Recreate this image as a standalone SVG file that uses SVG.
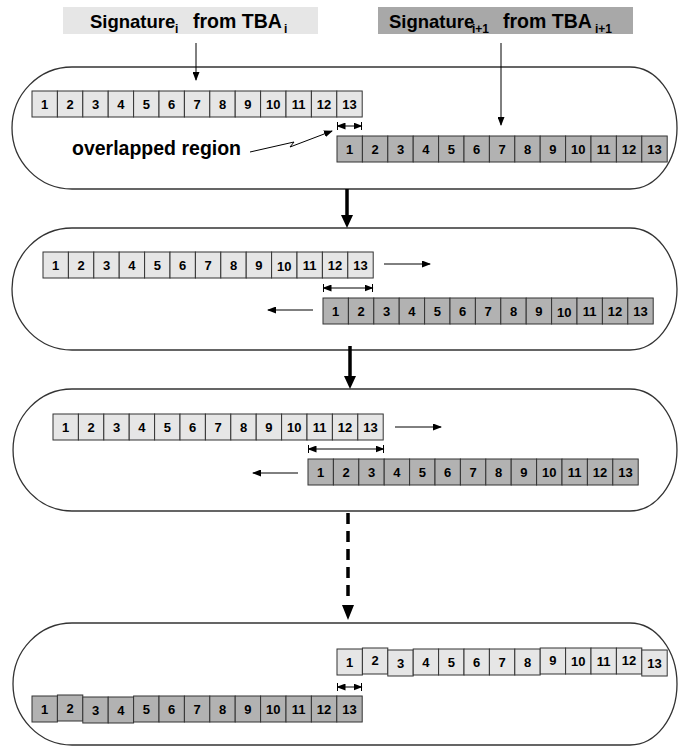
<svg xmlns="http://www.w3.org/2000/svg" width="678" height="746" viewBox="0 0 678 746">
<style>
.bg{fill:#fff}
.panel{fill:#fff;stroke:#333;stroke-width:1.3}
.cells rect{stroke:#333;stroke-width:1}
.light rect{fill:#e6e6e6}
.dark rect{fill:#b2b2b2}
.n{font-family:"Liberation Sans",Arial,sans-serif;font-weight:bold;font-size:13px;text-anchor:middle;fill:#000}
.t{font-family:"Liberation Sans",Arial,sans-serif;font-weight:bold;font-size:18.5px;fill:#000}
.w{font-size:19.5px}
.s{font-size:12px}
.thin{fill:none;stroke:#000;stroke-width:1}
.thick{fill:none;stroke:#000;stroke-width:3.5}
.dash{stroke-dasharray:11 7}
.head{fill:#000}
</style>
<defs>
<marker id="ah" markerUnits="userSpaceOnUse" markerWidth="9" markerHeight="7" refX="8" refY="3.5" orient="auto-start-reverse"><path d="M0,0 L9,3.5 L0,7 z" fill="#000"/></marker>
</defs>
<rect class="bg" x="0" y="0" width="678" height="746"/>

<g id="title-i">
<rect x="63" y="7" width="255" height="27" fill="#e6e6e6"/>
<text class="t" y="28"><tspan x="90">Signature</tspan><tspan class="s" x="175" y="33">i</tspan><tspan class="w" x="193" y="28">from TBA</tspan><tspan class="s" x="284" y="33">i</tspan></text>
</g>
<g id="title-i1">
<rect x="378" y="7" width="255" height="27" fill="#a8a8a8"/>
<text class="t" y="28"><tspan x="389">Signature</tspan><tspan class="s" x="472" y="33">i+1</tspan><tspan class="w" x="503" y="28">from TBA</tspan><tspan class="s" x="595" y="33">i+1</tspan></text>
</g>

<g id="panel1"><path class="panel" d="M72,67 L630,67 A47,61 0 0 1 630,189 L72,189 A60,61 0 0 1 72,67 Z"/></g>
<g id="panel2"><path class="panel" d="M72,228 L630,228 A47,61 0 0 1 630,350 L72,350 A60,61 0 0 1 72,228 Z"/></g>
<g id="panel3"><path class="panel" d="M72,389 L630,389 A47,61 0 0 1 630,511 L72,511 A59,61 0 0 1 72,389 Z"/></g>
<g id="panel4"><path class="panel" d="M72,623 L630,623 A47,61 0 0 1 630,745 L72,745 A59,61 0 0 1 72,623 Z"/></g>

<g id="p1-sig-i" class="cells light" transform="translate(32,91)">
<rect x="0" y="0" width="25.4" height="26"/><rect x="25.4" y="0" width="25.4" height="26"/><rect x="50.8" y="0" width="25.4" height="26"/><rect x="76.2" y="0" width="25.4" height="26"/><rect x="101.6" y="0" width="25.4" height="26"/><rect x="127" y="0" width="25.4" height="26"/><rect x="152.4" y="0" width="25.4" height="26"/><rect x="177.8" y="0" width="25.4" height="26"/><rect x="203.2" y="0" width="25.4" height="26"/><rect x="228.6" y="0" width="25.4" height="26"/><rect x="254" y="0" width="25.4" height="26"/><rect x="279.4" y="0" width="25.4" height="26"/><rect x="304.8" y="0" width="25.4" height="26"/>
<text class="n" x="12.7" y="17.5">1</text><text class="n" x="38.1" y="17.5">2</text><text class="n" x="63.5" y="17.5">3</text><text class="n" x="88.9" y="17.5">4</text><text class="n" x="114.3" y="17.5">5</text><text class="n" x="139.7" y="17.5">6</text><text class="n" x="165.1" y="17.5">7</text><text class="n" x="190.5" y="17.5">8</text><text class="n" x="215.9" y="17.5">9</text><text class="n" x="241.3" y="17.5">10</text><text class="n" x="266.7" y="17.5">11</text><text class="n" x="292.1" y="17.5">12</text><text class="n" x="317.5" y="17.5">13</text>
</g>
<g id="p1-sig-i1" class="cells dark" transform="translate(337,136)">
<rect x="0" y="0" width="25.4" height="26"/><rect x="25.4" y="0" width="25.4" height="26"/><rect x="50.8" y="0" width="25.4" height="26"/><rect x="76.2" y="0" width="25.4" height="26"/><rect x="101.6" y="0" width="25.4" height="26"/><rect x="127" y="0" width="25.4" height="26"/><rect x="152.4" y="0" width="25.4" height="26"/><rect x="177.8" y="0" width="25.4" height="26"/><rect x="203.2" y="0" width="25.4" height="26"/><rect x="228.6" y="0" width="25.4" height="26"/><rect x="254" y="0" width="25.4" height="26"/><rect x="279.4" y="0" width="25.4" height="26"/><rect x="304.8" y="0" width="25.4" height="26"/>
<text class="n" x="12.7" y="17.5">1</text><text class="n" x="38.1" y="17.5">2</text><text class="n" x="63.5" y="17.5">3</text><text class="n" x="88.9" y="17.5">4</text><text class="n" x="114.3" y="17.5">5</text><text class="n" x="139.7" y="17.5">6</text><text class="n" x="165.1" y="17.5">7</text><text class="n" x="190.5" y="17.5">8</text><text class="n" x="215.9" y="17.5">9</text><text class="n" x="241.3" y="17.5">10</text><text class="n" x="266.7" y="17.5">11</text><text class="n" x="292.1" y="17.5">12</text><text class="n" x="317.5" y="17.5">13</text>
</g>
<g id="label-overlap">
<text class="t" x="72" y="155" style="font-size:19.5px">overlapped region</text>
</g>

<g id="p2-sig-i" class="cells light" transform="translate(43,252)">
<rect x="0" y="0" width="25.4" height="26"/><rect x="25.4" y="0" width="25.4" height="26"/><rect x="50.8" y="0" width="25.4" height="26"/><rect x="76.2" y="0" width="25.4" height="26"/><rect x="101.6" y="0" width="25.4" height="26"/><rect x="127" y="0" width="25.4" height="26"/><rect x="152.4" y="0" width="25.4" height="26"/><rect x="177.8" y="0" width="25.4" height="26"/><rect x="203.2" y="0" width="25.4" height="26"/><rect x="228.6" y="0" width="25.4" height="26"/><rect x="254" y="0" width="25.4" height="26"/><rect x="279.4" y="0" width="25.4" height="26"/><rect x="304.8" y="0" width="25.4" height="26"/>
<text class="n" x="12.7" y="17.5">1</text><text class="n" x="38.1" y="17.5">2</text><text class="n" x="63.5" y="17.5">3</text><text class="n" x="88.9" y="17.5">4</text><text class="n" x="114.3" y="17.5">5</text><text class="n" x="139.7" y="17.5">6</text><text class="n" x="165.1" y="17.5">7</text><text class="n" x="190.5" y="17.5">8</text><text class="n" x="215.9" y="17.5">9</text><text class="n" x="241.3" y="19">10</text><text class="n" x="266.7" y="17.5">11</text><text class="n" x="292.1" y="17.5">12</text><text class="n" x="317.5" y="17.5">13</text>
</g>
<g id="p2-sig-i1" class="cells dark" transform="translate(323,298)">
<rect x="0" y="0" width="25.4" height="26"/><rect x="25.4" y="0" width="25.4" height="26"/><rect x="50.8" y="0" width="25.4" height="26"/><rect x="76.2" y="0" width="25.4" height="26"/><rect x="101.6" y="0" width="25.4" height="26"/><rect x="127" y="0" width="25.4" height="26"/><rect x="152.4" y="0" width="25.4" height="26"/><rect x="177.8" y="0" width="25.4" height="26"/><rect x="203.2" y="0" width="25.4" height="26"/><rect x="228.6" y="0" width="25.4" height="26"/><rect x="254" y="0" width="25.4" height="26"/><rect x="279.4" y="0" width="25.4" height="26"/><rect x="304.8" y="0" width="25.4" height="26"/>
<text class="n" x="12.7" y="17.5">1</text><text class="n" x="38.1" y="17.5">2</text><text class="n" x="63.5" y="17.5">3</text><text class="n" x="88.9" y="17.5">4</text><text class="n" x="114.3" y="17.5">5</text><text class="n" x="139.7" y="17.5">6</text><text class="n" x="165.1" y="17.5">7</text><text class="n" x="190.5" y="17.5">8</text><text class="n" x="215.9" y="17.5">9</text><text class="n" x="241.3" y="19">10</text><text class="n" x="266.7" y="17.5">11</text><text class="n" x="292.1" y="17.5">12</text><text class="n" x="317.5" y="17.5">13</text>
</g>

<g id="p3-sig-i" class="cells light" transform="translate(53,414)">
<rect x="0" y="0" width="25.4" height="26"/><rect x="25.4" y="0" width="25.4" height="26"/><rect x="50.8" y="0" width="25.4" height="26"/><rect x="76.2" y="0" width="25.4" height="26"/><rect x="101.6" y="0" width="25.4" height="26"/><rect x="127" y="0" width="25.4" height="26"/><rect x="152.4" y="0" width="25.4" height="26"/><rect x="177.8" y="0" width="25.4" height="26"/><rect x="203.2" y="0" width="25.4" height="26"/><rect x="228.6" y="0" width="25.4" height="26"/><rect x="254" y="0" width="25.4" height="26"/><rect x="279.4" y="0" width="25.4" height="26"/><rect x="304.8" y="0" width="25.4" height="26"/>
<text class="n" x="12.7" y="17.5">1</text><text class="n" x="38.1" y="17.5">2</text><text class="n" x="63.5" y="17.5">3</text><text class="n" x="88.9" y="17.5">4</text><text class="n" x="114.3" y="17.5">5</text><text class="n" x="139.7" y="17.5">6</text><text class="n" x="165.1" y="17.5">7</text><text class="n" x="190.5" y="17.5">8</text><text class="n" x="215.9" y="17.5">9</text><text class="n" x="241.3" y="17.5">10</text><text class="n" x="266.7" y="17.5">11</text><text class="n" x="292.1" y="17.5">12</text><text class="n" x="317.5" y="17.5">13</text>
</g>
<g id="p3-sig-i1" class="cells dark" transform="translate(308,459)">
<rect x="0" y="0" width="25.4" height="26"/><rect x="25.4" y="0" width="25.4" height="26"/><rect x="50.8" y="0" width="25.4" height="26"/><rect x="76.2" y="0" width="25.4" height="26"/><rect x="101.6" y="0" width="25.4" height="26"/><rect x="127" y="0" width="25.4" height="26"/><rect x="152.4" y="0" width="25.4" height="26"/><rect x="177.8" y="0" width="25.4" height="26"/><rect x="203.2" y="0" width="25.4" height="26"/><rect x="228.6" y="0" width="25.4" height="26"/><rect x="254" y="0" width="25.4" height="26"/><rect x="279.4" y="0" width="25.4" height="26"/><rect x="304.8" y="0" width="25.4" height="26"/>
<text class="n" x="12.7" y="17.5">1</text><text class="n" x="38.1" y="17.5">2</text><text class="n" x="63.5" y="17.5">3</text><text class="n" x="88.9" y="17.5">4</text><text class="n" x="114.3" y="17.5">5</text><text class="n" x="139.7" y="17.5">6</text><text class="n" x="165.1" y="17.5">7</text><text class="n" x="190.5" y="17.5">8</text><text class="n" x="215.9" y="17.5">9</text><text class="n" x="241.3" y="17.5">10</text><text class="n" x="266.7" y="17.5">11</text><text class="n" x="292.1" y="17.5">12</text><text class="n" x="317.5" y="17.5">13</text>
</g>

<g id="p4-sig-top" class="cells light" transform="translate(337,649)">
<rect x="0" y="0" width="25.4" height="26"/><rect x="25.4" y="-1" width="25.4" height="26"/><rect x="50.8" y="1" width="25.4" height="26"/><rect x="76.2" y="0" width="25.4" height="26"/><rect x="101.6" y="0" width="25.4" height="26"/><rect x="127" y="0" width="25.4" height="26"/><rect x="152.4" y="0" width="25.4" height="26"/><rect x="177.8" y="0" width="25.4" height="26"/><rect x="203.2" y="-1" width="25.4" height="26"/><rect x="228.6" y="-1" width="25.4" height="26"/><rect x="254" y="-1" width="25.4" height="26"/><rect x="279.4" y="-1" width="25.4" height="26"/><rect x="304.8" y="1" width="25.4" height="26"/>
<text class="n" x="12.7" y="17.5">1</text><text class="n" x="38.1" y="16">2</text><text class="n" x="63.5" y="18.5">3</text><text class="n" x="88.9" y="17.5">4</text><text class="n" x="114.3" y="17.5">5</text><text class="n" x="139.7" y="17.5">6</text><text class="n" x="165.1" y="17.5">7</text><text class="n" x="190.5" y="17.5">8</text><text class="n" x="215.9" y="16">9</text><text class="n" x="241.3" y="16.5">10</text><text class="n" x="266.7" y="16.5">11</text><text class="n" x="292.1" y="16">12</text><text class="n" x="317.5" y="18.5">13</text>
</g>
<g id="p4-sig-bottom" class="cells dark" transform="translate(32,696)">
<rect x="0" y="0" width="25.4" height="26"/><rect x="25.4" y="-1" width="25.4" height="26"/><rect x="50.8" y="1" width="25.4" height="26"/><rect x="76.2" y="1" width="25.4" height="26"/><rect x="101.6" y="0" width="25.4" height="26"/><rect x="127" y="0" width="25.4" height="26"/><rect x="152.4" y="0" width="25.4" height="26"/><rect x="177.8" y="0" width="25.4" height="26"/><rect x="203.2" y="0" width="25.4" height="26"/><rect x="228.6" y="0" width="25.4" height="26"/><rect x="254" y="0" width="25.4" height="26"/><rect x="279.4" y="0" width="25.4" height="26"/><rect x="304.8" y="0" width="25.4" height="26"/>
<text class="n" x="12.7" y="17.5">1</text><text class="n" x="38.1" y="16.5">2</text><text class="n" x="63.5" y="18.5">3</text><text class="n" x="88.9" y="18.5">4</text><text class="n" x="114.3" y="17.5">5</text><text class="n" x="139.7" y="17.5">6</text><text class="n" x="165.1" y="17.5">7</text><text class="n" x="190.5" y="17.5">8</text><text class="n" x="215.9" y="17.5">9</text><text class="n" x="241.3" y="17.5">10</text><text class="n" x="266.7" y="17.5">11</text><text class="n" x="292.1" y="17.5">12</text><text class="n" x="317.5" y="17.5">13</text>
</g>

<g id="connectors">
<line class="thin" x1="196" y1="43" x2="196" y2="80" marker-end="url(#ah)"/>
<line class="thin" x1="501" y1="43" x2="501" y2="125" marker-end="url(#ah)"/>
<polyline class="thin" points="250,152 294,142 290,147 332,131" marker-end="url(#ah)"/>

<line class="thin" x1="337.5" y1="126" x2="361.5" y2="126" marker-start="url(#ah)" marker-end="url(#ah)"/>
<line class="thin" x1="337.5" y1="122" x2="337.5" y2="130"/><line class="thin" x1="361.5" y1="122" x2="361.5" y2="130"/>

<line class="thin" x1="323.5" y1="288" x2="372.5" y2="288" marker-start="url(#ah)" marker-end="url(#ah)"/>
<line class="thin" x1="323.5" y1="284" x2="323.5" y2="292"/><line class="thin" x1="372.5" y1="284" x2="372.5" y2="292"/>
<line class="thin" x1="384" y1="264" x2="430" y2="264" marker-end="url(#ah)"/>
<line class="thin" x1="313" y1="310" x2="268" y2="310" marker-end="url(#ah)"/>

<line class="thin" x1="308.5" y1="449" x2="383.5" y2="449" marker-start="url(#ah)" marker-end="url(#ah)"/>
<line class="thin" x1="308.5" y1="445" x2="308.5" y2="453"/><line class="thin" x1="383.5" y1="445" x2="383.5" y2="453"/>
<line class="thin" x1="395" y1="427" x2="441" y2="427" marker-end="url(#ah)"/>
<line class="thin" x1="298" y1="473" x2="253" y2="473" marker-end="url(#ah)"/>

<line class="thin" x1="337.5" y1="687" x2="361.5" y2="687" marker-start="url(#ah)" marker-end="url(#ah)"/>
<line class="thin" x1="337.5" y1="683" x2="337.5" y2="691"/><line class="thin" x1="361.5" y1="683" x2="361.5" y2="691"/>

<line class="thick" x1="347" y1="189" x2="347" y2="217"/>
<polygon class="head" points="341,215 353,215 347,228"/>
<line class="thick" x1="350" y1="346" x2="350" y2="378"/>
<polygon class="head" points="344,376 356,376 350,389"/>
<line class="thick dash" x1="348" y1="513" x2="348" y2="602"/>
<polygon class="head" points="342,605 354,605 348,620"/>
</g>
</svg>
